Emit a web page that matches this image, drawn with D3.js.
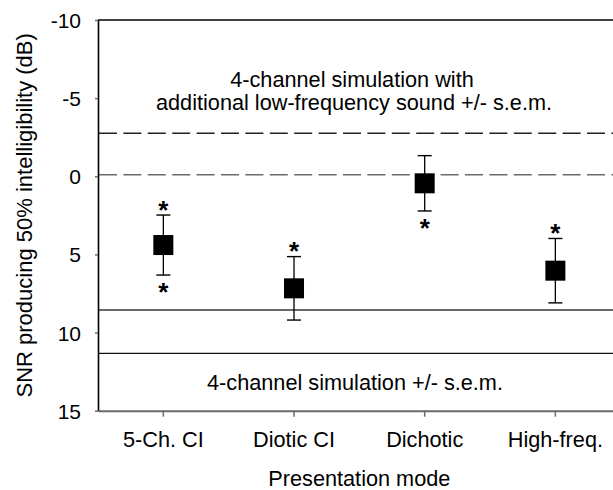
<!DOCTYPE html>
<html>
<head>
<meta charset="utf-8">
<script src="https://cdn.jsdelivr.net/npm/d3@7"></script>
<style>
  body { margin: 0; background: #fff; }
  svg { display: block; font-family: Arial, "Liberation Sans", sans-serif; }
</style>
</head>
<body>
<div id="chart"></div>
<script>
// ---- data ----
const categories = ["5-Ch. CI", "Diotic CI", "Dichotic", "High-freq."];
const means = [4.40, 7.17, 0.45, 6.04];
const sems = [1.92, 2.03, 1.77, 2.06];
const starAbove = [true, true, false, true];
const starBelow = [true, false, true, false];
const lowFreqBand = [-2.75, -0.1];   // 4-channel + low-frequency sound, +/- s.e.m.
const simBand = [8.55, 11.33];       // 4-channel simulation, +/- s.e.m.
const yTicks = [-10, -5, 0, 5, 10, 15];
const yDomain = [-10, 15];
const xTitle = "Presentation mode";
const yTitle = "SNR producing 50% intelligibility (dB)";
const noteTop = ["4-channel simulation with", "additional low-frequency sound +/- s.e.m."];
const noteBottom = "4-channel simulation +/- s.e.m.";

// ---- layout ----
const W = 613, H = 490;
const pL = 98, pR = 620.7, pT = 20, pB = 410.7;
const gray = "#6a6a6a";
const fs = 21.7;

const svg = d3.select("#chart").append("svg").attr("width", W).attr("height", H);

const x = d3.scaleBand().domain(categories).range([pL, pR]).padding(0);
const y = d3.scaleLinear().domain(yDomain).range([pT, pB]);
const cx = c => x(c) + x.bandwidth() / 2;

// top frame
svg.append("line").attr("x1", pL).attr("x2", pR).attr("y1", pT).attr("y2", pT)
  .attr("stroke", "#000").attr("stroke-width", 1.3);

// reference lines
svg.selectAll(".dash").data(lowFreqBand).enter().append("line")
  .attr("x1", pL + 1).attr("x2", pR).attr("y1", d => y(d)).attr("y2", d => y(d))
  .attr("stroke", (d, i) => i === 0 ? "#222" : gray).attr("stroke-width", 1.4)
  .attr("stroke-dasharray", "18,6.4");
svg.selectAll(".solid").data(simBand).enter().append("line")
  .attr("x1", pL).attr("x2", pR).attr("y1", d => y(d)).attr("y2", d => y(d))
  .attr("stroke", (d, i) => i === 0 ? gray : "#111").attr("stroke-width", (d, i) => i === 0 ? 2 : 1.4);

// y axis
const yAxis = svg.append("g").attr("transform", `translate(${pL},0)`)
  .call(d3.axisLeft(y).tickValues(yTicks).tickFormat(d => String(d))
    .tickSize(3).tickSizeOuter(0).tickPadding(14));
yAxis.select(".domain").attr("stroke", "#000").attr("stroke-width", 1.6);
yAxis.selectAll(".tick line").attr("stroke", gray).attr("stroke-width", 1.5);
yAxis.selectAll(".tick text").attr("font-size", 21).attr("fill", "#000")
  .attr("font-family", "Arial, 'Liberation Sans', sans-serif").attr("dy", "0.36em");

// x axis
const xAxis = svg.append("g").attr("transform", `translate(0,${pB})`)
  .call(d3.axisBottom(x).tickSize(6).tickSizeOuter(0).tickPadding(15));
xAxis.select(".domain").attr("stroke", gray).attr("stroke-width", 2);
xAxis.selectAll(".tick line").attr("stroke", gray).attr("stroke-width", 1.5);
xAxis.selectAll(".tick text").attr("font-size", fs).attr("fill", "#000")
  .attr("font-family", "Arial, 'Liberation Sans', sans-serif");

// error bars
const g = svg.append("g");
categories.forEach((c, i) => {
  const xc = cx(c);
  const lo = y(means[i] - sems[i]), hi = y(means[i] + sems[i]);
  g.append("line").attr("x1", xc).attr("x2", xc).attr("y1", lo).attr("y2", hi)
    .attr("stroke", "#000").attr("stroke-width", 1.3);
  [lo, hi].forEach(v => g.append("line").attr("x1", xc - 7).attr("x2", xc + 7)
    .attr("y1", v).attr("y2", v).attr("stroke", "#000").attr("stroke-width", 1.4));
  g.append("rect").attr("x", xc - 10).attr("y", y(means[i]) - 10)
    .attr("width", 20).attr("height", 20).attr("fill", "#000");
  if (starAbove[i]) g.append("text").attr("x", xc).attr("y", lo - 11 + 14.5)
    .attr("text-anchor", "middle").attr("font-size", 26).attr("font-weight", "bold").text("*");
  if (starBelow[i]) g.append("text").attr("x", xc).attr("y", hi + 11.5 + 14.5)
    .attr("text-anchor", "middle").attr("font-size", 26).attr("font-weight", "bold").text("*");
});

// annotations
svg.append("text").attr("x", 352).attr("y", 86.7).attr("text-anchor", "middle")
  .attr("font-size", fs).text(noteTop[0]);
svg.append("text").attr("x", 354).attr("y", 110.3).attr("text-anchor", "middle")
  .attr("font-size", fs).text(noteTop[1]);
svg.append("text").attr("x", 355).attr("y", 390).attr("text-anchor", "middle")
  .attr("font-size", fs).text(noteBottom);

// axis titles
svg.append("text").attr("x", (pL + pR) / 2).attr("y", 486).attr("text-anchor", "middle")
  .attr("font-size", fs).text(xTitle);
svg.append("text").attr("transform", `translate(31.5,${(pT + pB) / 2}) rotate(-90)`)
  .attr("text-anchor", "middle").attr("font-size", 22).text(yTitle);
</script>
</body>
</html>
